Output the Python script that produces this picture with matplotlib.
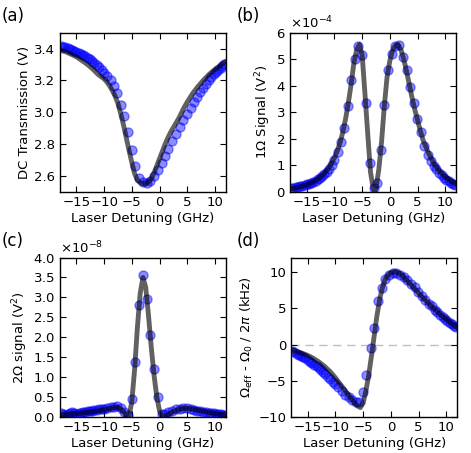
import matplotlib
matplotlib.use("Agg")
from matplotlib import pyplot as plt
from matplotlib.ticker import ScalarFormatter

# measured detuning points (GHz), shared by all four panels
det = [-17.8, -17.4, -17.0, -16.6, -16.2, -15.8, -15.4, -15.0, -14.6, -14.2,
       -13.8, -13.4, -13.0, -12.6, -12.2, -11.8, -11.35, -10.9, -10.45, -10.0,
       -9.45, -8.85, -8.2, -7.6, -6.95, -6.35, -5.7, -5.05, -4.4, -3.65,
       -2.95, -2.3, -1.65, -1.0, -0.35, 0.35, 1.0, 1.6, 2.3, 3.0,
       3.65, 4.3, 4.95, 5.6, 6.2, 6.8, 7.35, 7.9, 8.4, 8.9,
       9.35, 9.8, 10.2, 10.6, 11.0, 11.35, 11.7]

dc_data = [3.415, 3.412, 3.408, 3.403, 3.398, 3.393, 3.387, 3.381, 3.374, 3.367,
           3.360, 3.352, 3.343, 3.333, 3.322, 3.310, 3.297, 3.283, 3.265, 3.247,
           3.225, 3.200, 3.165, 3.120, 3.045, 2.975, 2.875, 2.765, 2.665, 2.590,
           2.562, 2.556, 2.572, 2.600, 2.640, 2.685, 2.725, 2.770, 2.820, 2.865,
           2.910, 2.950, 2.990, 3.030, 3.065, 3.095, 3.125, 3.150, 3.175, 3.200,
           3.220, 3.240, 3.255, 3.268, 3.280, 3.292, 3.305]

s1_data = [0.14, 0.16, 0.18, 0.20, 0.22, 0.24, 0.26, 0.29, 0.32, 0.35,
           0.39, 0.43, 0.48, 0.53, 0.60, 0.67, 0.76, 0.87, 1.00, 1.20,
           1.50, 1.90, 2.40, 3.25, 4.20, 5.00, 5.50, 5.15, 3.35, 1.10,
           0.17, 0.33, 1.57, 3.27, 4.60, 5.20, 5.48, 5.55, 5.08, 4.60,
           3.95, 3.35, 2.75, 2.25, 1.75, 1.40, 1.17, 0.98, 0.85, 0.73,
           0.63, 0.54, 0.47, 0.41, 0.36, 0.31, 0.27]

s2_data = [0.10, 0.07, 0.05, 0.08, 0.10, 0.12, 0.11, 0.08, 0.09, 0.11,
           0.12, 0.13, 0.14, 0.15, 0.16, 0.17, 0.18, 0.19, 0.20, 0.21,
           0.22, 0.24, 0.26, 0.27, 0.22, 0.12, 0.04, 0.45, 1.37, 2.80,
           3.55, 2.97, 2.05, 1.20, 0.50, 0.07, 0.08, 0.12, 0.16, 0.19,
           0.21, 0.22, 0.22, 0.20, 0.18, 0.16, 0.15, 0.13, 0.12, 0.11,
           0.10, 0.09, 0.08, 0.07, 0.07, 0.06, 0.06]

shift_data = [-0.95, -1.10, -1.25, -1.40, -1.55, -1.70, -1.90, -2.10, -2.35, -2.60,
              -2.80, -3.00, -3.25, -3.50, -3.80, -4.10, -4.45, -4.80, -5.15, -5.50,
              -5.90, -6.40, -6.90, -7.25, -7.65, -7.95, -8.00, -6.50, -4.20, -0.50,
              2.30, 5.95, 7.80, 9.00, 9.55, 9.85, 9.85, 9.60, 9.25, 8.85,
              8.40, 7.90, 7.30, 6.70, 6.15, 5.65, 5.25, 4.80, 4.45, 4.10,
              3.80, 3.50, 3.25, 3.00, 2.80, 2.60, 2.45]

# fitted curves
fit_det_a = [-18, -17, -16, -15, -14, -13, -12, -11, -10, -9.5, -9, -8.5, -8, -7.5,
             -7, -6.5, -6, -5.5, -5, -4.5, -4, -3.5, -3, -2.5, -2, -1.5, -1, -0.5,
             0, 0.5, 1, 1.5, 2, 2.5, 3, 3.5, 4, 4.5, 5, 6, 7, 8, 9, 10, 11, 12]
dc_fit = [3.390, 3.380, 3.365, 3.348, 3.325, 3.300, 3.270, 3.235, 3.210, 3.190, 3.165, 3.135, 3.100, 3.055,
          2.990, 2.920, 2.840, 2.760, 2.685, 2.615, 2.575, 2.558, 2.552, 2.553, 2.562, 2.585, 2.620, 2.665,
          2.710, 2.755, 2.800, 2.840, 2.875, 2.905, 2.935, 2.965, 3.000, 3.035, 3.065, 3.120, 3.165, 3.205,
          3.240, 3.270, 3.295, 3.320]

fit_det_b = [-18, -17, -16, -15, -14, -13, -12, -11, -10.5, -10, -9.5, -9, -8.5, -8, -7.5,
             -7, -6.5, -6, -5.5, -5, -4.5, -4, -3.5, -3, -2.75, -2.5, -2, -1.5, -1, -0.5,
             0, 0.5, 1, 1.5, 2, 2.5, 3, 3.5, 4, 4.5, 5, 5.5, 6, 7, 8, 9, 10, 11, 12]
s1_fit = [0.12, 0.16, 0.21, 0.28, 0.37, 0.49, 0.66, 0.92, 1.10, 1.30, 1.55, 1.85, 2.25, 2.75, 3.35,
          4.05, 4.85, 5.35, 5.55, 5.15, 3.70, 2.20, 0.75, 0.12, 0.03, 0.15, 0.85, 1.90, 3.25, 4.35,
          4.95, 5.35, 5.52, 5.55, 5.35, 5.00, 4.55, 4.05, 3.55, 3.10, 2.70, 2.30, 1.95, 1.45, 1.05,
          0.78, 0.58, 0.42, 0.30]

fit_det_c = [-18, -16, -14, -12, -10, -9, -8, -7.5, -7, -6.5, -6, -5.5, -5, -4.5, -4, -3.5,
             -3, -2.5, -2, -1.5, -1, -0.5, 0, 0.5, 1, 2, 3, 4, 5, 6, 7, 8, 9, 10, 11, 12]
s2_fit = [0.05, 0.07, 0.10, 0.13, 0.18, 0.21, 0.24, 0.24, 0.20, 0.12, 0.03, 0.02, 0.40, 1.20, 2.25, 3.10,
          3.50, 3.25, 2.55, 1.75, 1.05, 0.50, 0.15, 0.00, 0.02, 0.10, 0.17, 0.21, 0.22, 0.20, 0.17, 0.14,
          0.11, 0.09, 0.07, 0.05]

fit_det_d = [-18, -17, -16, -15, -14, -13, -12, -11, -10, -9, -8, -7, -6.5, -6, -5.5, -5, -4.5,
             -4, -3.5, -3, -2.5, -2, -1.5, -1, -0.5, 0, 0.5, 1, 1.5, 2, 3, 4, 5, 6, 7, 8, 9, 10, 11, 12]
shift_fit = [-0.75, -0.95, -1.20, -1.50, -1.90, -2.40, -3.00, -3.70, -4.60, -5.60, -6.60, -7.60, -8.10, -8.50,
             -8.70, -8.10, -6.40, -4.30, -1.60, 1.20, 4.00, 6.30, 7.90, 9.00, 9.60, 9.90, 10.00, 10.00, 9.85,
             9.60, 8.75, 7.95, 7.10, 6.30, 5.50, 4.80, 4.10, 3.50, 2.90, 2.30]

xticks = [-15, -10, -5, 0, 5, 10]

plt.rcParams['font.size'] = 9.5
plt.rcParams['xtick.direction'] = 'in'
plt.rcParams['ytick.direction'] = 'in'
plt.rcParams['xtick.top'] = True
plt.rcParams['ytick.right'] = True
plt.rcParams['xtick.major.size'] = 4
plt.rcParams['ytick.major.size'] = 4
plt.rcParams['xtick.major.pad'] = 3
plt.rcParams['axes.labelpad'] = 2
plt.rcParams['axes.linewidth'] = 1.0


def panel(fig, rect, x, y, xf, yf, ylim, yticks, ylabel, scale=False):
    ax = fig.add_axes(rect)
    ax.plot(x, y, 'o', color='b', alpha=0.45, ms=6.5, mew=1)
    ax.plot(xf, yf, '-', color='k', alpha=0.62, lw=3.5)
    ax.set_xlim(-18, 12)
    ax.set_ylim(*ylim)
    ax.set_xticks(xticks)
    ax.set_yticks(yticks)
    ax.set_xlabel('Laser Detuning (GHz)')
    ax.set_ylabel(ylabel)
    if scale:
        fmt = ScalarFormatter(useMathText=True)
        fmt.set_powerlimits((0, 0))
        ax.yaxis.set_major_formatter(fmt)
    return ax


def main():
    fig = plt.figure(figsize=(4.71, 4.53), dpi=100)
    w, h = 0.353, 0.352

    panel(fig, [0.127, 0.576, w, h], det, dc_data, fit_det_a, dc_fit,
          (2.5, 3.5), [2.6, 2.8, 3.0, 3.2, 3.4], 'DC Transmission (V)')

    s1 = [v * 1e-4 for v in s1_data]
    s1f = [v * 1e-4 for v in s1_fit]
    panel(fig, [0.616, 0.576, w, h], det, s1, fit_det_b, s1f,
          (0, 6e-4), [i * 1e-4 for i in range(7)],
          r'1$\Omega$ Signal (V$^2$)', scale=True)

    s2 = [v * 1e-8 for v in s2_data]
    s2f = [v * 1e-8 for v in s2_fit]
    ax = panel(fig, [0.127, 0.0795, w, h], det, s2, fit_det_c, s2f,
               (0, 4e-8), [i * 0.5e-8 for i in range(9)],
               r'2$\Omega$ signal (V$^2$)', scale=True)
    ax.yaxis.get_major_formatter().set_useOffset(False)

    ax = panel(fig, [0.618, 0.0795, w, h], det, shift_data, fit_det_d, shift_fit,
               (-10, 12), [-10, -5, 0, 5, 10],
               r'$\Omega_{\rm eff}$ - $\Omega_0$ / 2$\pi$ (kHz)')
    ax.axhline(0, color='0.75', ls='--', lw=1, dashes=(6, 4), zorder=0)

    fig.text(0.004, 0.985, '(a)', fontsize=12, va='top')
    fig.text(0.503, 0.985, '(b)', fontsize=12, va='top')
    fig.text(0.004, 0.487, '(c)', fontsize=12, va='top')
    fig.text(0.503, 0.487, '(d)', fontsize=12, va='top')

    fig.savefig('out.png', dpi=100)


if __name__ == '__main__':
    main()
